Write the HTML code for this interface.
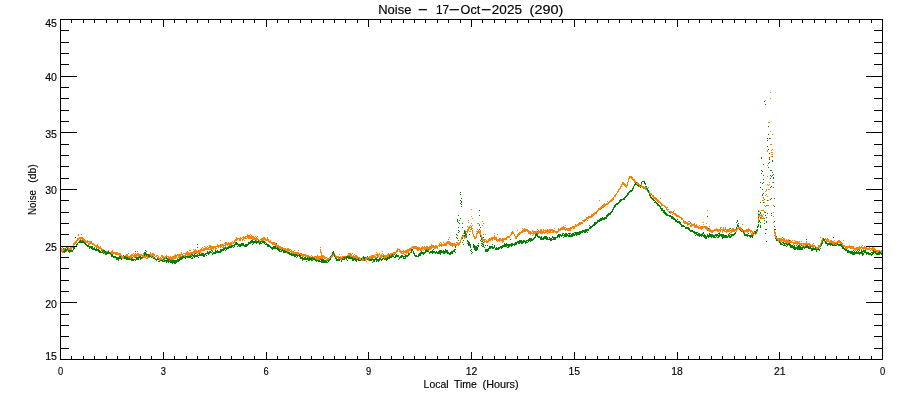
<!DOCTYPE html>
<html lang="en">
<head>
<meta charset="utf-8">
<title>Noise - 17-Oct-2025 (290)</title>
<style>
html,body{margin:0;padding:0;background:#fff;}
body{width:900px;height:400px;overflow:hidden;}
svg{display:block;}
</style>
</head>
<body>
<svg width="900" height="400" viewBox="0 0 900 400">
<rect width="900" height="400" fill="#fff"/>
<g fill="none" stroke-width="1" shape-rendering="crispEdges">
<path transform="translate(.5 0)" stroke="#ff8000" d="M60 247v5M61 248v4M62 247v1M62 249v4M63 249v2M63 252v1M64 248v3M65 248v2M65 251v1M66 249v1M66 251v1M67 247v1M67 249v2M68 247v4M69 248v2M70 247v3M71 247v3M72 246v2M73 243v3M74 242v3M75 241v3M76 240v3M77 238v3M78 234v2M78 238v2M79 237v2M79 240v1M80 237v3M81 234v1M81 237v2M81 240v1M82 237v4M83 238v3M84 239v3M85 240v3M86 241v2M87 240v3M88 241v1M88 243v2M89 241v4M90 241v3M91 241v3M92 243v2M93 243v2M94 244v2M95 245v2M96 245v3M97 244v4M98 246v3M99 247v2M100 246v3M101 248v2M102 249v2M103 249v4M104 251v3M105 252v2M106 251v3M107 251v3M108 250v2M108 253v1M109 252v2M110 252v3M111 251v3M112 250v4M113 252v2M114 252v2M115 252v3M116 252v3M117 252v3M118 253v2M119 253v3M120 253v4M121 255v3M122 256v3M123 255v4M124 256v2M125 255v3M126 254v4M127 254v3M128 253v1M128 256v3M129 256v2M130 255v4M131 254v4M132 254v2M132 258v1M133 253v1M133 255v2M134 254v4M135 253v4M135 259v1M136 254v3M137 251v1M137 253v3M138 253v4M139 254v2M139 257v1M140 254v4M141 254v2M141 257v1M142 255v4M143 253v5M144 255v3M145 255v3M146 253v1M146 256v1M146 258v1M147 255v4M148 254v4M149 254v1M149 256v2M150 252v4M151 254v3M152 253v5M153 253v5M154 254v2M155 256v1M155 258v1M156 255v2M157 255v1M157 257v1M158 256v3M159 258v3M160 257v3M161 255v2M161 258v2M162 255v3M162 259v2M163 256v5M164 257v4M165 256v3M165 261v1M166 255v2M166 258v1M167 256v1M167 258v3M168 256v3M168 261v1M169 257v4M170 256v4M171 257v3M172 256v4M173 256v4M174 255v4M175 254v5M176 255v3M177 254v2M177 258v1M178 254v4M179 254v4M180 254v3M181 252v3M181 256v2M182 254v2M183 253v1M183 255v2M184 253v1M184 255v2M185 253v3M186 252v3M186 257v1M187 251v5M188 252v4M189 250v1M189 253v3M190 250v1M190 252v3M191 252v2M191 255v1M192 252v3M193 249v1M193 251v3M194 250v4M195 249v4M196 250v4M197 251v2M198 250v4M199 250v3M200 249v4M201 248v3M202 247v1M202 249v2M203 248v3M204 246v1M204 248v3M205 247v3M206 247v3M207 246v1M207 248v2M208 247v3M209 245v3M209 249v1M210 245v5M211 246v4M212 246v3M212 250v1M213 246v4M214 246v2M215 246v4M216 246v1M216 248v1M217 244v3M218 245v3M219 245v2M220 240v1M220 244v4M221 244v3M222 244v2M222 247v1M223 244v4M224 243v1M224 245v1M224 247v1M225 242v5M226 242v3M226 247v1M227 243v3M228 242v3M229 243v3M230 242v4M231 242v3M232 241v1M232 243v1M233 242v2M234 240v3M235 239v2M236 237v4M237 238v2M238 238v1M239 238v3M240 237v4M241 238v1M242 237v1M242 239v2M243 236v4M244 237v2M244 240v1M245 236v3M246 236v1M246 238v1M247 234v4M248 235v4M249 235v4M250 234v1M250 236v3M251 235v4M252 236v4M253 236v4M254 237v3M255 236v1M255 238v2M256 237v4M257 236v1M257 238v2M258 239v2M259 240v2M260 239v1M261 238v3M262 238v3M263 237v4M264 237v3M265 238v3M266 239v2M267 237v4M268 239v3M269 241v2M270 240v3M271 242v2M272 242v3M273 242v3M274 242v3M275 243v3M276 244v4M277 245v2M278 245v3M279 246v3M280 246v3M281 247v3M282 247v3M283 248v2M284 248v2M285 248v3M286 249v2M286 252v1M287 248v4M287 253v1M288 248v4M289 249v2M290 249v1M290 251v1M291 250v3M292 251v3M293 251v3M294 250v1M294 252v2M295 252v2M296 252v3M297 252v3M298 250v1M298 252v3M299 253v2M300 253v3M301 253v3M301 257v1M302 254v3M303 254v3M304 254v2M305 254v3M306 255v2M307 255v2M308 255v3M309 256v3M310 256v4M311 255v1M311 257v1M311 259v1M312 256v4M313 257v3M314 256v2M315 256v3M316 256v4M317 255v5M318 256v4M319 256v4M320 247v1M320 249v4M320 256v3M321 252v7M322 255v4M323 255v3M324 256v3M325 257v2M326 257v1M326 259v2M327 258v2M328 258v2M329 257v4M330 257v2M331 256v2M332 255v2M333 254v2M334 253v3M335 255v2M336 256v2M337 256v2M338 256v3M339 254v1M339 257v2M340 256v4M341 257v3M342 256v4M343 256v3M344 256v3M345 256v3M346 256v2M347 255v3M348 253v4M349 253v4M350 253v4M351 254v3M352 253v1M352 256v2M353 255v3M354 254v1M354 256v2M355 255v3M356 255v4M357 256v3M358 257v2M359 257v4M360 258v2M361 258v3M362 257v4M363 257v4M364 257v4M365 257v4M366 257v3M366 261v1M367 257v3M368 257v4M369 256v3M370 256v3M371 255v4M372 255v3M373 255v3M374 255v3M375 254v1M375 256v2M376 252v1M376 254v2M376 257v1M377 253v4M378 254v3M379 253v2M379 257v1M380 255v3M381 254v4M382 251v1M382 253v1M382 255v2M383 254v4M384 255v4M385 255v3M386 255v3M387 254v3M388 253v4M389 254v3M390 253v3M391 253v3M392 253v2M393 252v4M394 252v3M395 252v2M396 250v3M397 248v4M398 249v1M399 249v3M400 250v3M401 251v3M402 251v1M402 253v1M403 250v4M404 251v2M404 254v1M405 250v3M405 254v1M406 250v4M407 249v4M408 249v4M409 248v3M410 248v3M411 247v2M411 250v1M412 246v2M413 246v3M414 246v3M415 246v3M416 246v4M417 247v4M418 247v4M419 247v3M420 248v3M421 247v4M422 246v4M423 247v2M423 250v1M424 246v4M425 247v3M426 246v4M427 246v4M428 247v4M429 246v4M430 246v4M431 244v5M432 245v3M433 245v3M434 246v3M435 245v4M436 245v3M437 246v3M438 245v1M439 243v4M440 242v1M440 244v2M441 243v4M442 244v2M443 242v1M443 244v2M444 243v3M445 243v3M446 242v4M447 241v3M448 239v1M448 241v3M449 237v1M449 241v4M450 242v4M451 243v3M452 243v4M453 243v3M454 243v3M455 244v3M456 242v1M456 244v2M457 242v3M458 243v3M459 242v3M460 240v3M461 237v3M462 236v3M463 233v1M463 235v2M464 236v3M465 236v2M466 231v1M466 233v3M467 226v1M467 229v4M468 220v1M468 222v1M468 227v4M469 226v3M469 231v1M470 225v1M470 227v1M470 229v1M470 231v1M471 209v1M471 216v1M471 223v1M471 226v4M472 218v1M472 225v1M472 228v1M472 230v4M473 234v3M474 236v3M475 237v2M476 231v1M476 233v5M477 223v1M477 229v1M477 231v3M478 223v1M478 230v3M479 224v1M479 231v3M480 230v5M481 235v3M482 221v1M482 225v1M482 237v4M483 223v1M483 234v1M483 239v2M484 239v4M485 234v1M485 239v1M485 241v1M486 240v3M487 241v2M488 239v3M489 238v3M490 238v3M491 237v3M492 237v4M493 237v2M494 233v1M494 235v5M495 237v3M496 237v4M497 234v1M497 239v3M498 239v2M499 238v4M500 238v3M501 239v2M502 238v5M503 238v4M504 238v2M505 238v2M506 237v3M507 236v2M508 236v2M509 236v2M510 234v2M511 232v3M512 231v3M513 232v2M514 234v2M515 236v3M516 236v3M517 230v1M517 234v3M518 233v3M519 232v3M520 232v2M521 231v2M522 228v1M522 230v3M523 229v3M524 228v4M525 229v3M526 229v2M527 229v3M528 230v4M529 231v3M530 231v4M531 232v2M532 230v2M532 233v1M532 235v1M533 231v4M534 231v3M535 231v3M536 231v3M537 229v1M537 231v4M538 230v4M539 231v2M540 229v5M541 229v5M542 231v3M543 229v4M544 230v1M544 232v2M545 230v3M546 230v3M547 229v3M547 233v1M548 230v3M549 229v4M550 229v4M551 229v2M551 232v1M552 229v4M553 230v3M554 228v1M554 230v2M555 231v2M556 231v3M557 231v2M558 228v4M559 229v2M560 228v3M561 227v3M562 227v3M563 226v4M564 227v3M565 225v1M565 227v1M565 229v2M566 228v2M567 228v3M568 228v3M569 228v3M570 227v4M571 227v2M572 226v2M573 226v3M574 226v3M575 224v3M576 225v2M577 224v2M578 223v3M579 222v3M580 222v3M581 222v2M582 220v1M582 222v2M583 220v2M584 219v3M585 219v2M586 217v3M587 217v2M587 220v1M588 216v3M589 216v2M590 216v2M591 214v4M592 214v3M593 213v3M594 212v3M595 212v2M596 211v3M597 210v2M598 208v3M599 200v1M599 208v2M600 207v3M601 206v3M602 205v3M603 204v4M604 203v4M605 204v2M606 203v2M607 201v1M607 203v2M608 202v2M609 201v2M610 200v2M611 199v3M612 198v3M613 197v3M614 195v2M615 194v3M616 193v2M617 191v2M618 189v3M619 188v2M620 186v3M621 184v3M622 182v3M623 182v3M624 183v3M625 184v3M626 185v3M627 182v4M628 178v4M629 176v3M630 176v2M631 176v3M632 177v3M633 179v2M634 179v4M635 181v2M636 182v2M637 182v3M638 183v3M639 184v3M640 185v2M641 184v3M642 186v2M643 186v3M644 187v2M645 187v3M646 187v3M647 189v3M648 187v1M648 191v2M649 191v4M650 193v2M651 193v2M652 195v2M653 195v4M654 197v2M655 197v3M656 198v3M657 199v3M658 200v3M659 201v2M660 198v1M660 202v2M661 203v3M662 204v2M663 205v1M664 205v2M665 206v2M666 207v3M667 207v1M667 209v2M668 209v1M668 211v1M669 211v2M670 211v3M671 211v2M672 212v1M672 214v1M673 211v3M674 210v1M674 213v2M675 213v3M676 214v3M677 215v2M678 215v2M679 216v2M680 217v1M681 217v3M682 218v2M683 220v3M684 221v3M685 221v3M686 222v2M687 222v4M688 221v1M688 223v2M689 221v1M689 223v2M690 222v2M690 225v2M691 223v4M692 224v2M693 224v2M694 223v5M695 225v3M696 224v4M697 226v2M698 226v3M699 225v1M699 227v2M700 226v3M701 226v4M702 226v3M703 222v1M703 224v1M703 226v2M704 226v2M705 226v3M706 223v1M706 226v4M707 210v1M707 227v4M708 228v3M709 226v1M709 228v4M710 229v3M711 230v3M712 230v3M713 230v2M714 229v2M715 229v2M716 228v3M717 229v3M718 229v3M719 229v2M719 232v1M720 227v5M721 227v1M721 229v1M722 229v4M723 227v4M724 229v3M725 227v3M725 231v1M726 229v4M727 229v3M728 229v3M729 228v4M730 230v1M730 232v1M731 229v4M732 228v4M733 228v4M734 229v3M735 229v2M736 229v3M737 228v2M738 227v2M739 227v2M740 227v4M741 228v3M742 224v1M742 229v3M743 230v4M744 230v3M745 230v2M746 229v3M747 229v4M748 228v4M749 229v2M750 230v3M751 230v2M751 233v2M752 231v4M753 232v4M754 232v2M755 233v2M756 229v5M757 226v2M757 229v1M757 231v1M758 210v2M758 213v1M758 215v2M758 218v4M758 226v1M759 211v1M759 215v2M760 215v1M760 218v1M761 210v1M761 214v5M762 200v1M762 210v1M762 215v2M762 218v1M763 197v2M763 200v1M763 210v1M763 214v1M763 217v2M764 202v1M764 205v1M764 211v2M764 218v1M765 100v1M765 191v1M765 195v1M765 206v1M766 189v2M766 194v1M766 205v1M767 150v2M767 165v1M767 176v1M767 184v1M767 196v1M767 205v1M768 122v1M768 185v1M768 189v1M768 200v1M768 205v1M769 122v1M769 158v1M769 182v1M769 184v1M769 189v1M770 92v1M770 98v1M770 131v1M770 138v1M770 144v1M771 144v1M771 150v1M771 152v1M771 154v1M771 156v1M772 134v1M772 149v1M772 152v1M772 154v1M772 182v1M773 205v1M773 212v1M773 216v1M773 222v1M774 229v5M774 235v1M775 232v6M776 236v3M777 238v2M778 238v4M779 238v3M780 238v4M781 238v4M782 237v1M782 239v2M783 238v4M784 238v4M785 240v3M786 239v4M787 240v4M788 239v4M789 240v3M790 240v3M790 244v1M791 241v2M792 240v1M792 242v1M793 242v3M794 240v1M794 242v2M795 241v3M796 241v3M797 241v4M798 242v2M799 241v4M800 243v2M801 241v1M801 243v3M802 243v1M802 245v2M803 243v3M804 243v2M804 246v1M805 243v3M806 241v4M807 243v2M807 246v1M808 243v2M809 243v4M810 244v2M811 245v2M812 244v4M813 243v1M813 245v3M814 245v2M815 246v3M816 247v3M817 247v2M818 245v3M819 245v3M820 237v1M820 243v3M821 240v4M822 238v3M823 239v2M824 239v3M825 238v2M825 241v1M826 239v3M827 238v4M828 239v3M829 241v2M830 240v3M831 240v4M832 241v3M833 241v4M834 240v1M834 242v2M835 242v3M836 242v3M837 241v2M838 240v3M839 240v3M840 241v3M841 242v2M842 243v3M843 240v1M843 245v2M844 245v2M845 246v3M846 246v3M847 246v3M848 246v2M849 245v3M850 246v3M851 246v3M852 246v3M853 246v3M854 248v2M855 248v3M856 247v3M857 247v3M858 247v3M859 246v4M860 247v2M861 246v2M861 249v1M862 245v1M862 247v2M863 247v3M864 246v3M865 247v4M866 247v3M867 248v2M868 248v2M869 247v3M870 248v1M870 250v1M871 248v2M872 247v4M873 247v3M874 248v3M875 249v2M876 250v3M877 250v3M878 250v3M879 250v3M880 251v2M881 250v3M882 251v2"/>
<path transform="translate(.5 0)" stroke="#008000" d="M63 248v1M63 251v1M64 250v3M65 248v4M66 247v1M66 249v2M67 248v2M68 250v2M69 250v3M70 250v2M71 250v2M72 250v2M73 247v3M74 247v2M75 237v1M75 246v1M76 244v3M77 243v2M78 242v1M79 241v2M80 240v3M81 241v2M82 240v3M83 241v2M84 242v2M85 243v2M86 244v2M87 245v2M88 245v2M89 246v3M90 246v2M91 246v3M92 246v4M93 248v2M94 247v3M95 249v2M96 248v3M97 249v2M98 249v3M99 250v3M100 251v2M101 250v1M101 252v1M102 251v2M103 250v2M103 253v1M104 250v3M105 251v4M106 252v3M107 252v2M108 251v3M109 252v2M110 253v1M111 254v3M112 254v3M113 256v2M114 256v2M115 256v2M116 257v3M117 257v3M118 257v4M119 256v3M120 256v3M121 258v2M123 255v1M124 256v3M125 256v3M126 257v3M127 257v3M128 258v2M129 258v2M130 259v1M131 258v3M132 257v1M132 259v2M133 259v2M134 259v1M135 251v1M135 257v1M135 260v1M136 257v3M137 257v3M138 257v3M139 256v2M140 256v4M141 257v2M142 257v1M144 252v4M145 250v1M145 252v3M146 251v1M146 254v2M147 254v1M148 254v3M149 255v2M150 256v1M151 257v1M152 256v1M153 258v1M154 257v2M155 259v1M156 259v2M157 258v2M158 259v1M158 261v1M159 261v1M160 260v1M161 260v1M162 260v2M163 259v1M163 261v1M164 258v1M164 260v2M165 260v1M166 257v2M166 260v3M167 258v4M168 259v4M169 259v1M169 261v1M170 260v3M171 260v3M172 260v4M173 260v3M174 260v4M175 260v4M176 260v3M177 259v3M178 259v3M179 258v3M180 257v3M181 257v3M182 256v3M183 256v2M184 257v1M185 256v3M186 256v1M187 256v2M188 256v2M189 256v2M190 255v3M191 254v1M191 256v1M191 258v1M192 254v2M192 257v2M193 255v2M194 254v4M195 253v1M195 255v2M196 255v2M197 244v1M197 247v1M197 254v3M198 255v1M198 257v1M199 253v3M200 254v2M201 253v3M202 253v3M203 253v4M204 254v3M205 253v2M206 253v1M206 255v1M207 251v3M208 252v3M209 251v3M210 251v2M211 250v1M211 252v1M212 251v1M212 253v2M213 252v2M214 252v2M215 250v4M216 251v2M217 250v3M218 251v2M219 251v2M220 249v4M221 249v3M222 249v2M223 248v3M224 248v2M225 247v2M225 250v1M226 248v2M227 247v2M228 246v3M229 246v2M230 246v2M231 245v3M232 245v2M233 245v1M233 247v1M234 244v3M235 242v3M236 242v3M237 243v2M237 246v1M238 244v2M239 244v3M240 244v3M241 243v3M242 243v3M243 243v3M244 245v2M245 244v3M246 244v3M247 244v2M248 242v3M249 242v2M250 241v3M251 240v3M252 240v3M252 244v1M253 241v3M254 241v2M255 240v3M256 241v3M257 241v2M258 240v3M259 242v3M260 241v3M261 241v1M261 243v1M262 241v2M263 241v2M264 241v3M265 242v1M265 244v1M266 243v2M267 244v3M268 244v3M269 245v2M270 246v2M271 247v2M272 247v3M273 246v3M274 246v3M275 246v3M276 243v1M276 248v1M277 247v3M278 248v3M279 249v3M280 249v1M280 251v1M281 250v2M282 249v2M283 250v3M284 250v3M285 251v2M286 251v1M287 252v1M288 252v2M289 252v3M290 253v2M291 253v3M292 254v2M293 254v2M294 254v3M295 254v3M296 254v2M296 257v1M297 255v2M298 255v1M299 254v3M300 255v4M301 257v2M302 257v4M303 258v2M304 257v3M305 257v3M306 258v2M306 261v1M307 257v3M308 258v3M309 257v4M310 258v2M311 257v4M312 257v2M312 260v1M313 258v2M314 258v2M315 259v2M316 260v2M317 260v1M318 260v2M319 260v2M320 259v1M320 261v1M321 259v4M322 259v4M323 259v4M324 260v3M325 260v3M326 261v2M327 260v1M327 262v1M328 260v2M329 259v2M330 256v1M330 258v2M331 255v1M332 252v3M333 251v3M334 254v3M335 257v2M336 258v3M337 259v2M338 259v2M339 257v1M339 259v2M341 260v2M342 258v2M343 257v1M343 259v1M344 257v3M345 257v1M346 256v4M347 256v2M347 260v1M348 256v3M349 256v3M350 257v2M351 257v2M352 257v4M353 258v3M354 258v2M355 258v3M356 259v3M357 259v1M358 258v3M359 260v1M360 260v1M361 258v2M363 256v3M364 257v4M365 257v1M367 256v1M367 259v1M368 258v1M369 259v2M370 259v2M371 259v2M372 258v2M372 262v1M373 259v3M374 259v3M375 258v2M376 258v4M377 257v1M377 259v2M378 259v3M379 258v3M380 258v2M381 259v2M382 258v2M383 256v1M383 258v1M384 259v1M385 258v2M386 258v3M387 257v3M388 257v2M389 255v4M390 256v2M391 255v3M392 254v3M393 256v1M394 254v1M394 257v1M395 255v3M396 254v3M397 255v2M398 255v2M398 259v1M399 257v2M400 256v2M401 255v3M402 255v2M403 256v3M404 256v1M404 258v1M405 255v4M406 255v2M407 255v2M408 253v3M409 253v2M410 252v1M411 249v4M412 249v2M413 251v3M414 253v3M415 255v2M416 255v2M417 256v1M418 254v3M419 253v3M420 252v4M421 251v3M422 252v2M423 252v3M424 252v2M425 250v3M426 249v3M427 250v2M428 249v1M428 251v1M429 252v2M430 251v2M431 251v2M432 250v4M433 249v1M433 251v2M434 251v2M435 252v2M436 251v2M437 252v2M438 251v3M439 250v4M440 250v5M441 250v3M442 251v2M443 250v4M444 251v3M445 249v4M446 250v3M447 250v4M448 252v2M449 253v2M450 252v3M451 251v3M452 251v3M453 250v2M454 249v3M455 246v2M455 249v1M455 252v1M456 234v1M456 237v1M457 219v3M457 235v1M457 238v1M458 215v1M458 222v1M458 227v1M458 230v1M458 232v1M458 240v1M459 220v1M459 223v1M459 231v1M460 192v1M460 194v1M460 200v1M460 203v1M460 218v1M461 198v1M461 201v2M461 204v1M461 206v1M462 223v1M462 227v1M462 235v1M462 238v1M462 242v1M463 240v1M463 244v1M464 230v4M464 235v2M465 231v5M466 234v1M466 236v2M467 240v2M467 243v1M468 241v5M469 234v1M469 242v4M470 244v4M470 250v1M471 249v1M471 251v1M471 253v1M472 252v1M473 244v4M474 245v5M475 246v5M476 246v5M477 245v1M477 247v3M478 243v1M478 245v2M479 210v1M479 215v1M479 225v1M479 229v1M480 227v1M480 235v2M480 240v1M481 238v2M481 241v1M481 243v1M481 245v1M482 241v1M482 243v2M482 246v1M483 237v1M483 242v1M483 244v3M484 247v1M485 245v1M485 249v3M486 249v3M487 245v1M487 249v3M488 248v3M489 246v3M490 246v3M491 246v2M492 244v1M492 246v3M493 247v2M494 245v3M495 248v2M496 247v3M497 248v2M498 247v3M499 247v2M500 246v2M501 246v3M502 245v3M503 245v2M504 243v4M505 244v3M506 243v4M507 244v2M507 247v1M508 244v4M509 244v3M510 239v1M510 244v2M511 243v4M512 243v3M513 244v1M514 243v3M515 242v3M516 242v3M517 241v2M518 241v3M519 240v4M520 240v3M521 240v4M522 241v3M523 240v3M524 240v2M525 241v3M526 240v3M527 240v1M527 242v1M528 239v3M529 238v3M530 238v4M531 238v3M532 239v2M533 238v2M534 237v2M535 234v4M536 233v3M537 234v3M538 236v2M539 236v2M540 237v3M541 236v4M542 238v2M543 237v3M544 236v3M545 236v3M546 236v4M547 237v3M548 239v1M549 237v3M550 238v3M551 238v3M552 236v2M552 239v1M553 237v3M554 237v3M555 237v3M556 237v1M557 235v3M558 234v3M559 234v4M560 234v2M561 235v2M562 233v3M563 233v1M563 235v1M563 237v1M564 234v3M565 233v4M566 233v4M567 234v2M568 233v1M568 235v2M569 233v4M570 233v1M570 235v2M571 234v3M572 233v4M573 233v3M574 232v1M574 234v2M575 232v3M576 232v4M577 232v3M578 232v3M579 231v4M580 231v3M581 231v2M582 230v3M583 230v2M584 230v3M585 229v4M586 229v3M587 229v2M587 232v1M588 229v2M589 225v1M589 227v2M590 226v3M591 226v2M592 225v2M593 224v2M594 222v4M595 222v3M596 222v2M597 220v3M598 220v2M599 219v3M600 218v3M601 218v3M602 217v3M603 218v2M604 217v3M605 217v2M606 215v4M607 214v3M608 213v3M609 213v2M610 212v3M611 211v2M612 209v3M613 207v3M614 205v3M615 204v3M616 203v2M617 203v2M618 202v2M619 200v3M620 199v3M621 199v2M622 199v1M623 198v2M624 197v3M625 196v2M626 195v2M627 193v3M628 192v3M629 191v2M630 190v2M631 190v2M632 188v3M633 186v3M634 184v2M635 183v2M636 182v1M636 184v1M637 185v1M638 185v2M640 185v1M640 187v1M641 182v2M642 181v1M643 181v1M644 181v3M645 183v2M645 186v1M646 186v1M646 188v1M647 188v3M648 190v3M649 194v2M650 195v3M651 197v2M652 198v2M653 199v2M654 200v1M654 202v1M655 201v2M656 202v2M657 203v3M658 204v2M659 205v2M660 206v3M661 208v3M662 208v3M663 210v3M664 210v4M665 212v3M666 213v3M667 214v2M668 215v1M669 212v1M669 215v2M670 215v2M671 216v3M672 216v3M673 217v3M674 218v2M675 219v3M676 220v2M677 219v1M677 221v2M678 221v2M679 221v3M680 222v3M681 224v3M682 225v2M683 225v2M684 226v1M685 227v2M686 227v2M687 227v2M688 227v3M689 228v3M690 230v2M691 230v2M692 230v2M693 231v2M694 231v3M695 232v2M695 235v1M696 232v3M697 232v1M697 234v2M698 233v3M699 233v4M700 234v2M701 234v3M702 233v3M703 232v2M703 235v2M704 234v4M705 235v4M706 236v3M707 216v1M707 234v3M708 228v1M708 235v3M709 233v4M710 234v3M711 234v4M712 234v3M713 235v3M714 235v3M715 234v2M715 237v1M716 234v3M717 234v2M717 237v1M718 233v1M718 235v3M719 233v4M720 234v2M721 234v3M722 234v5M723 234v4M724 235v3M725 235v3M726 235v3M727 236v2M728 234v3M729 233v1M729 235v3M730 228v1M730 234v1M730 236v2M731 234v3M732 234v2M733 234v2M734 233v2M735 232v2M736 222v1M736 227v2M737 220v2M737 224v3M738 223v1M738 225v2M739 229v1M740 230v1M741 231v1M742 229v1M743 231v2M744 233v3M745 234v2M746 234v2M747 234v3M748 233v1M748 235v1M749 235v2M750 235v3M751 235v2M752 235v3M753 233v1M754 231v1M755 231v3M756 230v1M756 232v1M757 226v2M757 229v2M758 211v1M758 214v1M758 217v1M758 222v1M758 224v3M759 214v1M759 220v2M760 182v1M760 187v1M760 202v1M760 212v2M760 217v1M760 222v1M760 225v3M761 157v2M761 170v1M761 173v1M762 171v1M762 183v1M762 189v1M762 194v2M763 164v1M763 175v1M763 179v1M763 182v1M763 193v1M763 202v1M764 101v1M764 199v1M764 218v1M764 220v1M764 223v1M765 104v1M765 212v1M765 215v1M765 229v1M765 233v1M766 217v1M766 221v2M766 229v1M766 241v1M767 138v1M767 140v1M767 146v1M767 200v1M767 213v1M768 126v1M768 134v1M768 149v1M768 163v1M768 167v1M769 138v1M769 153v1M769 157v1M769 159v1M769 162v1M770 170v1M770 175v1M770 178v1M770 187v1M770 199v1M771 170v1M771 176v1M771 186v1M771 198v1M771 213v1M771 215v1M772 156v1M772 160v2M772 172v1M772 175v1M773 174v1M773 177v2M773 182v1M773 187v1M774 198v1M774 206v1M774 221v1M774 226v1M774 229v1M775 229v1M775 238v1M776 236v1M776 239v2M777 240v1M779 241v2M780 242v3M781 243v2M782 242v1M782 244v1M783 242v2M783 245v1M784 243v3M785 243v1M785 245v1M786 243v2M786 246v1M787 244v2M788 243v2M789 240v1M789 243v3M790 244v4M791 245v3M792 245v3M793 246v3M794 245v5M795 247v3M796 245v1M796 247v2M797 246v4M798 245v5M799 245v5M800 246v4M801 245v1M801 247v3M802 247v3M803 246v2M804 247v2M805 246v2M806 239v1M806 245v3M807 245v3M808 246v3M809 247v2M810 246v3M811 248v3M812 248v3M813 248v2M814 248v2M815 247v3M816 249v3M817 249v1M818 248v2M819 249v2M820 246v1M820 248v1M821 243v3M822 241v3M823 238v3M824 239v2M825 241v3M826 242v2M827 243v3M828 243v2M829 243v2M830 243v3M831 243v2M832 244v2M833 237v1M833 245v1M834 244v2M835 243v1M835 245v1M836 245v1M837 243v2M838 244v2M839 244v2M840 244v2M841 244v3M842 246v3M843 247v2M844 248v2M845 249v2M846 249v2M847 250v3M848 250v3M849 251v2M850 251v3M851 251v3M852 251v4M853 250v1M853 252v3M854 251v4M855 252v2M856 251v3M857 250v1M857 252v2M858 251v3M859 250v1M859 252v3M860 252v2M861 250v4M862 251v5M863 250v2M863 253v2M864 250v3M865 250v3M866 252v3M867 252v2M868 252v3M869 253v2M870 253v2M871 252v1M871 254v2M872 252v3M873 250v4M874 251v2M875 251v3M876 253v2M877 253v2M878 252v3M879 251v4M880 252v2M881 253v2M882 253v2"/>
<path transform="translate(0 .5)" stroke="#000" d="M60 19H883M60 359H883M61 348h8M874 348h8M61 336h8M874 336h8M61 325h8M874 325h8M61 314h8M874 314h8M61 302h16M866 302h16M61 291h8M874 291h8M61 280h8M874 280h8M61 268h8M874 268h8M61 257h8M874 257h8M61 246h16M866 246h16M61 234h8M874 234h8M61 223h8M874 223h8M61 212h8M874 212h8M61 200h8M874 200h8M61 189h16M866 189h16M61 178h8M874 178h8M61 166h8M874 166h8M61 155h8M874 155h8M61 144h8M874 144h8M61 132h16M866 132h16M61 121h8M874 121h8M61 110h8M874 110h8M61 98h8M874 98h8M61 87h8M874 87h8M61 76h16M866 76h16M61 64h8M874 64h8M61 53h8M874 53h8M61 42h8M874 42h8M61 30h8M874 30h8"/>
<path transform="translate(.5 0)" stroke="#000" d="M60 19V360M882 19V360M71 356v3M71 20v3M83 356v3M83 20v3M94 356v3M94 20v3M106 356v3M106 20v3M117 356v3M117 20v3M129 356v3M129 20v3M140 356v3M140 20v3M151 356v3M151 20v3M163 352v7M163 20v7M174 356v3M174 20v3M186 356v3M186 20v3M197 356v3M197 20v3M208 356v3M208 20v3M220 356v3M220 20v3M231 356v3M231 20v3M243 356v3M243 20v3M254 356v3M254 20v3M266 352v7M266 20v7M277 356v3M277 20v3M288 356v3M288 20v3M300 356v3M300 20v3M311 356v3M311 20v3M323 356v3M323 20v3M334 356v3M334 20v3M345 356v3M345 20v3M357 356v3M357 20v3M368 352v7M368 20v7M380 356v3M380 20v3M391 356v3M391 20v3M403 356v3M403 20v3M414 356v3M414 20v3M425 356v3M425 20v3M437 356v3M437 20v3M448 356v3M448 20v3M460 356v3M460 20v3M471 352v7M471 20v7M482 356v3M482 20v3M494 356v3M494 20v3M505 356v3M505 20v3M517 356v3M517 20v3M528 356v3M528 20v3M540 356v3M540 20v3M551 356v3M551 20v3M562 356v3M562 20v3M574 352v7M574 20v7M585 356v3M585 20v3M597 356v3M597 20v3M608 356v3M608 20v3M619 356v3M619 20v3M631 356v3M631 20v3M642 356v3M642 20v3M654 356v3M654 20v3M665 356v3M665 20v3M677 352v7M677 20v7M688 356v3M688 20v3M699 356v3M699 20v3M711 356v3M711 20v3M722 356v3M722 20v3M734 356v3M734 20v3M745 356v3M745 20v3M756 356v3M756 20v3M768 356v3M768 20v3M779 352v7M779 20v7M791 356v3M791 20v3M802 356v3M802 20v3M814 356v3M814 20v3M825 356v3M825 20v3M836 356v3M836 20v3M848 356v3M848 20v3M859 356v3M859 20v3M871 356v3M871 20v3"/>
</g>
<g font-family="'Liberation Sans', sans-serif" fill="#000" stroke="#000" stroke-width="0.15">
<text font-size="12.5"><tspan x="378.2" y="14.0" textLength="33.2" lengthAdjust="spacingAndGlyphs">Noise</tspan> <tspan x="417.5" y="12.9" textLength="10.6" lengthAdjust="spacingAndGlyphs">-</tspan> <tspan x="436.0" y="14.0" textLength="13.2" lengthAdjust="spacingAndGlyphs">17</tspan><tspan x="448.2" y="12.9" textLength="12.1" lengthAdjust="spacingAndGlyphs">-</tspan><tspan x="460.6" y="14.0" textLength="19.6" lengthAdjust="spacingAndGlyphs">Oct</tspan><tspan x="480.6" y="12.9" textLength="11.3" lengthAdjust="spacingAndGlyphs">-</tspan><tspan x="491.8" y="14.0" textLength="30.2" lengthAdjust="spacingAndGlyphs">2025</tspan> <tspan x="529.6" y="14.0" textLength="33.6" lengthAdjust="spacingAndGlyphs">(290)</tspan></text>
<text font-size="11"><tspan x="423.6" y="388.0" textLength="24.9" lengthAdjust="spacingAndGlyphs">Local</tspan> <tspan x="453.9" y="388.0" textLength="23.0" lengthAdjust="spacingAndGlyphs">Time</tspan> <tspan x="482.6" y="388.0" textLength="36.0" lengthAdjust="spacingAndGlyphs">(Hours)</tspan></text>
<text x="57.9" y="375.0" font-size="11" textLength="5.2" lengthAdjust="spacingAndGlyphs">0</text>
<text x="160.7" y="375.0" font-size="11" textLength="5.2" lengthAdjust="spacingAndGlyphs">3</text>
<text x="263.4" y="375.0" font-size="11" textLength="5.2" lengthAdjust="spacingAndGlyphs">6</text>
<text x="366.1" y="375.0" font-size="11" textLength="5.2" lengthAdjust="spacingAndGlyphs">9</text>
<text x="465.7" y="375.0" font-size="11" textLength="11.6" lengthAdjust="spacingAndGlyphs">12</text>
<text x="568.5" y="375.0" font-size="11" textLength="11.6" lengthAdjust="spacingAndGlyphs">15</text>
<text x="671.2" y="375.0" font-size="11" textLength="11.6" lengthAdjust="spacingAndGlyphs">18</text>
<text x="774.0" y="375.0" font-size="11" textLength="11.6" lengthAdjust="spacingAndGlyphs">21</text>
<text x="879.9" y="375.0" font-size="11" textLength="5.2" lengthAdjust="spacingAndGlyphs">0</text>
<text x="45.2" y="27.0" font-size="11" textLength="11.8" lengthAdjust="spacingAndGlyphs">45</text>
<text x="45.2" y="81.0" font-size="11" textLength="11.8" lengthAdjust="spacingAndGlyphs">40</text>
<text x="45.2" y="137.6" font-size="11" textLength="11.8" lengthAdjust="spacingAndGlyphs">35</text>
<text x="45.2" y="194.0" font-size="11" textLength="11.8" lengthAdjust="spacingAndGlyphs">30</text>
<text x="45.2" y="250.7" font-size="11" textLength="11.8" lengthAdjust="spacingAndGlyphs">25</text>
<text x="45.2" y="307.8" font-size="11" textLength="11.8" lengthAdjust="spacingAndGlyphs">20</text>
<text x="45.2" y="359.8" font-size="11" textLength="11.8" lengthAdjust="spacingAndGlyphs">15</text>
<g transform="translate(36 215) rotate(-90)">
<text font-size="11"><tspan x="0.0" y="0.0" textLength="25.0" lengthAdjust="spacingAndGlyphs">Noise</tspan> <tspan x="32.2" y="0.0" textLength="18.4" lengthAdjust="spacingAndGlyphs">(db)</tspan></text>
</g>
</g>
</svg>
</body>
</html>
